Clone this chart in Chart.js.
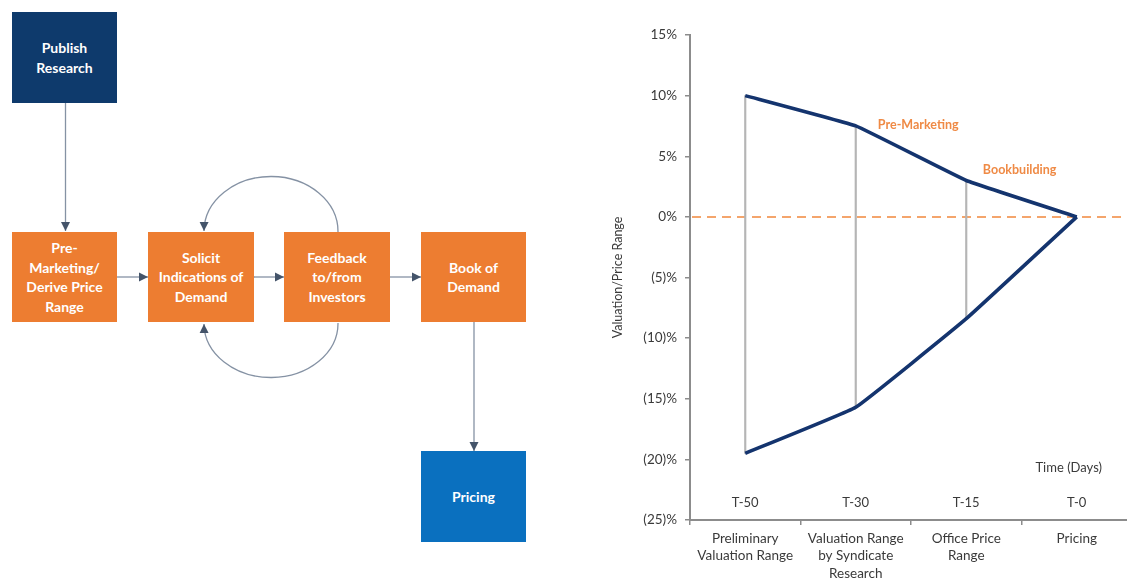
<!DOCTYPE html>
<html>
<head>
<meta charset="utf-8">
<script src="https://cdn.jsdelivr.net/npm/chart.js@4.4.1/dist/chart.umd.min.js"></script>
<style>
  html, body { margin: 0; padding: 0; width: 1127px; height: 579px; overflow: hidden; background: #fff; }
  .flow { position: absolute; left: 0; top: 0; width: 560px; height: 579px; }
  .box {
    position: absolute; display: flex; align-items: center; justify-content: center; text-align: center;
    color: #fff; font-family: Lato, "Open Sans", sans-serif; font-weight: 700; font-size: 14px; line-height: 19.5px;
  }
  .navy { background: #0e3a6c; }
  .orange { background: #ed7d31; }
  .blue { background: #0a70bf; }
  #flowSvg { position: absolute; left: 0; top: 0; }
  #chartWrap { position: absolute; left: 600px; top: 0; width: 540px; height: 579px; }
</style>
</head>
<body>
<div class="flow">
  <svg id="flowSvg" width="560" height="579">
    <defs>
      <marker id="head" markerUnits="userSpaceOnUse" markerWidth="10" markerHeight="10" refX="9" refY="5" orient="auto">
        <path d="M0,0.5 L9,5 L0,9.5 Z" fill="#44546a"/>
      </marker>
    </defs>
    <g stroke="#8592a4" stroke-width="1.3" fill="none" marker-end="url(#head)">
      <path d="M65.5,103 L65.5,231"/>
      <path d="M117,277 L148,277"/>
      <path d="M254,277 L284,277"/>
      <path d="M390,277 L421,277"/>
      <path d="M474,322 L474,451"/>
      <path d="M338,232 A67,55 0 0 0 204,231"/>
      <path d="M338,323 A67,54 0 0 1 204,324"/>
    </g>
  </svg>
  <div class="box navy" style="left:12px;top:12px;width:105px;height:91px;">Publish<br>Research</div>
  <div class="box orange" style="left:12px;top:232px;width:105px;height:90px;">Pre-<br>Marketing/<br>Derive Price<br>Range</div>
  <div class="box orange" style="left:148px;top:232px;width:106px;height:90px;">Solicit<br>Indications of<br>Demand</div>
  <div class="box orange" style="left:284px;top:232px;width:106px;height:90px;">Feedback<br>to/from<br>Investors</div>
  <div class="box orange" style="left:421px;top:232px;width:105px;height:90px;">Book of<br>Demand</div>
  <div class="box blue" style="left:421px;top:451px;width:105px;height:91px;">Pricing</div>
</div>
<div id="chartWrap"><canvas id="chart"></canvas></div>
<script>
// Stages along the IPO timeline
const stages = [
  ['Preliminary', 'Valuation Range'],
  ['Valuation Range', 'by Syndicate', 'Research'],
  ['Office Price', 'Range'],
  ['Pricing']
];
const timeLabels = ['T-50', 'T-30', 'T-15', 'T-0'];

// Upper and lower bounds of the valuation / price range (%)
const upperBound = [10, 7.5, 3, 0];
const lowerBound = [-19.5, -15.7, -8.4, 0];

// Phase labels and where they sit (category index offset, value)
const phaseLabels = ['Pre-Marketing', 'Bookbuilding'];
const phaseAnchors = [[1.2, 7.6], [2.15, 3.85]];

const axisColor = '#8c8c8c';
const textColor = '#3a3a3a';
const lineColor = '#14346e';
const accent = '#ef8a45';

// vertical range markers between the two bounds
const rangeBars = upperBound.map((u, i) => (u === lowerBound[i] ? null : [lowerBound[i], u]));

const overlay = {
  id: 'overlay',
  beforeDatasetsDraw(chart) {
    const { ctx, chartArea, scales } = chart;
    const y0 = scales.y.getPixelForValue(0);
    ctx.save();
    ctx.strokeStyle = '#f4a56c';
    ctx.lineWidth = 2;
    ctx.setLineDash([9, 6]);
    ctx.beginPath();
    ctx.moveTo(chartArea.left + 2, y0);
    ctx.lineTo(chartArea.right, y0);
    ctx.stroke();
    ctx.restore();
  },
  afterDatasetsDraw(chart) {
    const { ctx, chartArea, scales } = chart;
    const x = scales.x, y = scales.y;
    const step = x.getPixelForValue(1) - x.getPixelForValue(0);
    ctx.save();
    ctx.textBaseline = 'middle';

    // time markers
    ctx.fillStyle = textColor;
    ctx.font = '13px Lato, sans-serif';
    ctx.textAlign = 'center';
    timeLabels.forEach((t, i) => ctx.fillText(t, x.getPixelForValue(i), chartArea.bottom - 17));
    ctx.fillText('Time (Days)', x.getPixelForValue(3) - 8, y.getPixelForValue(-20.7));

    // phase labels
    ctx.fillStyle = accent;
    ctx.font = 'bold 12.5px Lato, sans-serif';
    ctx.textAlign = 'left';
    phaseLabels.forEach((p, i) => {
      const [ci, v] = phaseAnchors[i];
      ctx.fillText(p, x.getPixelForValue(0) + ci * step, y.getPixelForValue(v));
    });
    ctx.restore();
  }
};

new Chart(document.getElementById('chart'), {
  type: 'bar',
  data: {
    labels: stages,
    datasets: [
      {
        type: 'line', label: 'Upper', data: upperBound, order: 1,
        borderColor: lineColor, borderWidth: 3.6, pointRadius: 0, tension: 0.08, fill: false
      },
      {
        type: 'line', label: 'Lower', data: lowerBound, order: 1,
        borderColor: lineColor, borderWidth: 3.6, pointRadius: 0, tension: 0.08, fill: false
      },
      {
        type: 'bar', label: 'Range', data: rangeBars, order: 2,
        backgroundColor: '#b5b5b5', barThickness: 1.5
      }
    ]
  },
  options: {
    responsive: true,
    maintainAspectRatio: false,
    animation: false,
    layout: { padding: { top: 35, right: 8, left: 0, bottom: 0 } },
    plugins: { legend: { display: false }, tooltip: { enabled: false } },
    scales: {
      x: {
        offset: true,
        grid: { drawOnChartArea: false, offset: true, tickLength: 5, color: axisColor, lineWidth: 1.5 },
        border: { color: axisColor, width: 2 },
        ticks: { color: textColor, font: { family: 'Lato', size: 13.5, lineHeight: 1.28 }, padding: 5, maxRotation: 0, autoSkip: false },
        afterFit: s => { s.height = 59; }
      },
      y: {
        min: -25, max: 15,
        grid: { drawOnChartArea: false, tickLength: 5, color: axisColor, lineWidth: 1.5 },
        border: { color: axisColor, width: 2 },
        ticks: {
          stepSize: 5, color: textColor, padding: 8,
          font: { family: 'Lato', size: 13.5 },
          callback: v => (v < 0 ? `(${-v})%` : `${v}%`)
        },
        title: {
          display: true, text: 'Valuation/Price Range', color: textColor,
          font: { family: 'Lato', size: 12.5 }, padding: { top: 10, bottom: 0 }
        },
        afterFit: s => { s.width = 90; }
      }
    }
  },
  plugins: [overlay]
});
</script>
</body>
</html>
